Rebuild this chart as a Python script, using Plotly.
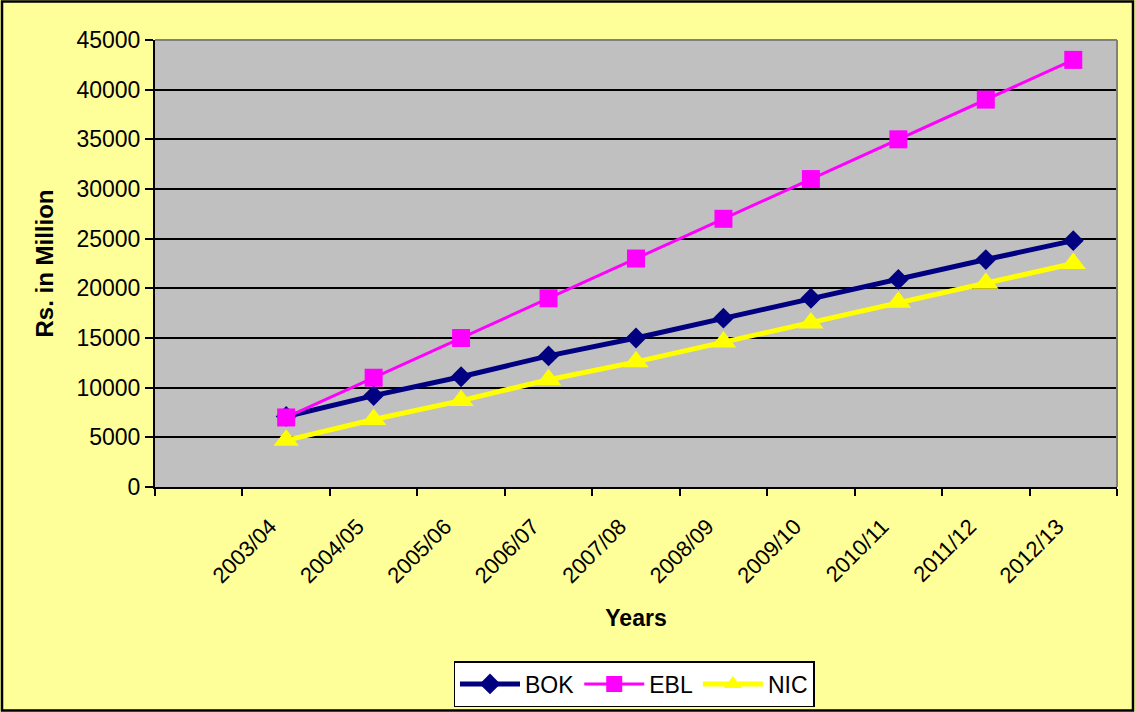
import plotly.graph_objects as go

YEARS = ["2003/04", "2004/05", "2005/06", "2006/07", "2007/08",
         "2008/09", "2009/10", "2010/11", "2011/12", "2012/13"]
BOK = [7100, 9200, 11100, 13200, 15000, 17000, 19000, 20900, 22900, 24800]
EBL = [7000, 11000, 15000, 19000, 23000, 27000, 31000, 35000, 39000, 43000]
NIC = [4700, 6800, 8700, 10800, 12600, 14600, 16500, 18600, 20500, 22500]
CATEGORIES = [" "] + YEARS  # first category slot is blank in the source chart

W, H = 1135, 712
L, R, T, B = 155, 18, 40, 225
PW, PH = W - L - R, H - T - B

fig = go.Figure()
fig.add_trace(go.Scatter(x=YEARS, y=BOK, name="BOK", mode="lines+markers",
                         line=dict(color="#000080", width=5),
                         marker=dict(symbol="diamond", size=16, color="#000080")))
fig.add_trace(go.Scatter(x=YEARS, y=EBL, name="EBL", mode="lines+markers",
                         line=dict(color="#FF00FF", width=3),
                         marker=dict(symbol="square", size=18, color="#FF00FF")))
fig.add_trace(go.Scatter(x=YEARS, y=NIC, name="NIC", mode="lines+markers",
                         line=dict(color="#FFFF00", width=5),
                         marker=dict(symbol="triangle-up", size=22, color="#FFFF00")))

font = "Liberation Sans, Arial, sans-serif"

fig.update_layout(
    width=W, height=H,
    margin=dict(l=L, r=R, t=T, b=B, autoexpand=False),
    paper_bgcolor="#FFFF99",
    plot_bgcolor="#C0C0C0",
    font=dict(family=font, size=22, color="black"),
    showlegend=True,
    legend=dict(orientation="h", x=(634 - L) / PW, xanchor="center",
                y=(T + PH - 661) / PH, yanchor="top",
                bgcolor="white", bordercolor="black", borderwidth=1.5,
                font=dict(size=23), itemwidth=60, traceorder="normal"),
    xaxis=dict(type="category", categoryorder="array", categoryarray=CATEGORIES,
               range=[-0.5, len(CATEGORIES) - 0.5],
               tickson="boundaries", ticks="outside", ticklen=7, tickwidth=2,
               tickcolor="black", tickangle=-45, tickfont=dict(size=22),
               ticklabelshift=-16, ticklabelstandoff=16,
               showline=True, linecolor="black", linewidth=2,
               showgrid=False, zeroline=False,
               title=dict(text="<b>Years</b>", font=dict(size=23), standoff=23)),
    yaxis=dict(range=[0, 45000], dtick=5000, tick0=0, tickformat="d",
               ticks="outside", ticklen=8, tickwidth=2, tickcolor="black",
               tickfont=dict(size=23),
               showline=True, linecolor="black", linewidth=2,
               showgrid=True, gridcolor="black", gridwidth=1.5,
               zeroline=False,
               title=dict(text="<b>Rs. in Million</b>", font=dict(size=24), standoff=16)),
    shapes=[
        dict(type="line", xref="paper", yref="paper", x0=0, x1=1, y0=1, y1=1,
             line=dict(color="#808080", width=2)),
        dict(type="line", xref="paper", yref="paper", x0=1, x1=1, y0=0, y1=1,
             line=dict(color="#808080", width=2)),
        dict(type="rect", xref="paper", yref="paper",
             x0=(2 - L) / PW, x1=(W - 2 - L) / PW,
             y0=(T + PH - (H - 1.5)) / PH, y1=(T + PH - 1.5) / PH,
             line=dict(color="black", width=2.5), layer="above"),
    ],
)

fig.write_html("out.html", config={"displayModeBar": False},
               post_script="document.body.style.margin='0px';"
                           "document.body.style.overflow='hidden';")
